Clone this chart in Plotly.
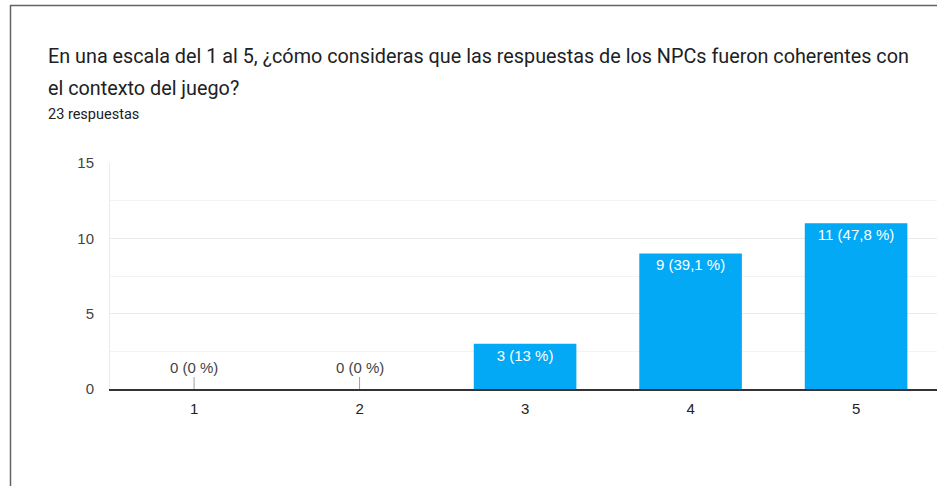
import plotly.graph_objects as go

# data
categorias = ["1", "2", "3", "4", "5"]
respuestas = [0, 0, 3, 9, 11]
etiquetas = ["0 (0 %)", "0 (0 %)", "3 (13 %)", "9 (39,1 %)", "11 (47,8 %)"]
titulo = ["En una escala del 1 al 5, ¿cómo consideras que las respuestas de los NPCs fueron coherentes con",
          "el contexto del juego?"]
subtitulo = "23 respuestas"

W, H = 937, 486
L, R, T, B = 110, 0, 163, 97
pw, ph = W - L - R, H - T - B


def px(p):
    return (p - L) / pw


def py(p):
    return (H - B - p) / ph


# bars with a label only when there is room inside
fig = go.Figure()
fig.add_trace(go.Bar(x=categorias,
                     y=respuestas,
                     text=[t if v > 0 else "" for t, v in zip(etiquetas, respuestas)],
                     textposition='inside',
                     insidetextanchor='end',
                     textfont=dict(color='white', size=15, family='Arial'),
                     marker=dict(color='#03a9f4', line=dict(width=0)),
                     hoverinfo='skip'
                     )
              )

# zero values get a small leader line
for i, (v, t) in enumerate(zip(respuestas, etiquetas)):
    if v == 0:
        fig.add_annotation(x=i, y=0, text=t, showarrow=True, arrowhead=0,
                           arrowwidth=1, arrowcolor='#9e9e9e', ax=0, ay=-22,
                           font=dict(size=15, color='#444', family='Arial'))

for linea, ypos in zip(titulo, [57, 88]):
    fig.add_annotation(xref='paper', yref='paper', x=px(46), y=py(ypos), xanchor='left', yanchor='middle',
                       text=linea, showarrow=False, align='left',
                       font=dict(size=19.8, color='#202124', family='Roboto'))
fig.add_annotation(xref='paper', yref='paper', x=px(46), y=py(115), xanchor='left', yanchor='middle',
                   text=subtitulo, showarrow=False, align='left',
                   font=dict(size=14.5, color='#202124', family='Roboto'))

# card border (only left and top visible)
fig.add_shape(type='line', xref='paper', yref='paper', x0=px(10.5), x1=px(10.5), y0=py(5), y1=py(490),
              line=dict(color='#5f6368', width=1.5))
fig.add_shape(type='line', xref='paper', yref='paper', x0=px(10), x1=px(940), y0=py(5.5), y1=py(5.5),
              line=dict(color='#5f6368', width=1.5))

fig.update_layout(width=W, height=H,
                  margin=dict(l=L, r=R, t=T, b=B),
                  paper_bgcolor='white', plot_bgcolor='white',
                  bargap=0.38, showlegend=False,
                  font=dict(family='Arial', size=15, color='#444')
                  )
fig.update_xaxes(range=[-0.508, 4.489], showline=True, linecolor='#333', linewidth=1.5, ticks='',
                 showgrid=False, ticklabelstandoff=5, tickfont=dict(size=15, color='#222'))
fig.update_yaxes(range=[0, 15], dtick=5, showgrid=True, gridcolor='#ebebeb', gridwidth=1,
                 minor=dict(dtick=2.5, showgrid=True, gridcolor='#f3f3f3'),
                 showline=True, linecolor='#ebebeb', zeroline=False, ticks='',
                 ticklabelstandoff=12, tickfont=dict(size=15, color='#444'))

fig.write_html("out.html", config={'displayModeBar': False},
               post_script="document.body.style.margin='0px';")
